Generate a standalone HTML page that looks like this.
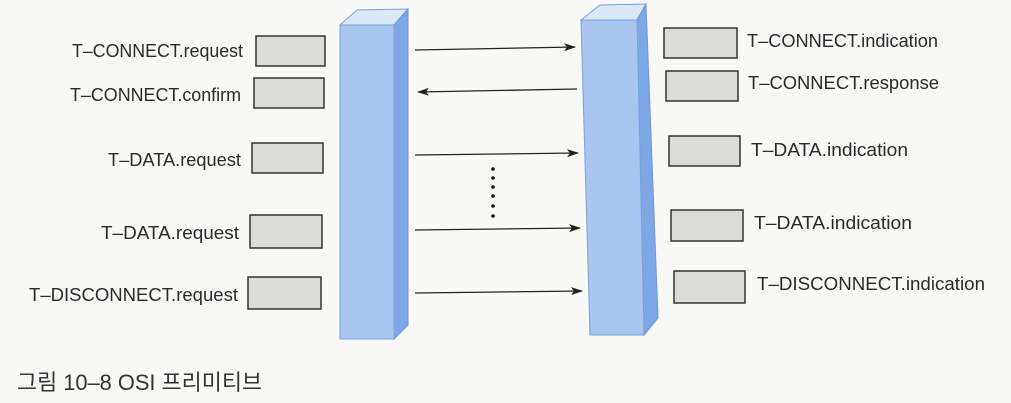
<!DOCTYPE html>
<html><head><meta charset="utf-8"><style>
html,body{margin:0;padding:0;background:#f8f8f6;}
svg{display:block}
text{font-family:"Liberation Sans","Noto Sans CJK KR",sans-serif;fill:#2a2a2a;font-size:18px}
</style></head><body>
<svg width="1011" height="403" viewBox="0 0 1011 403">
<defs>
<marker id="a" markerWidth="12" markerHeight="8" refX="11" refY="4" orient="auto" markerUnits="userSpaceOnUse"><path d="M0,0 L12,4 L0,8 L3,4 Z" fill="#222"/></marker>
</defs>
<polygon points="340,25 357,10 408,9 394,25" fill="#dbe8f8" stroke="#7aa2dc" stroke-width="1"/>
<polygon points="394,25 408,9 408,325 394,339" fill="#7ea7e6" stroke="#6d96d6" stroke-width="1"/>
<rect x="340" y="25" width="54" height="314" fill="#a8c6f0" stroke="#7aa2dc" stroke-width="1"/>
<polygon points="581,20 600,5 646,4 637,20" fill="#dbe8f8" stroke="#7aa2dc" stroke-width="1"/>
<polygon points="637,20 646,4 658,318 644,335" fill="#7ea7e6" stroke="#6d96d6" stroke-width="1"/>
<polygon points="581,20 637,20 644,335 590,335" fill="#a8c6f0" stroke="#7aa2dc" stroke-width="1"/>
<g fill="#dcdcd8" stroke="#333" stroke-width="1.5">
<rect x="256" y="36" width="69" height="30"/>
<rect x="254" y="78" width="70" height="30"/>
<rect x="252" y="143" width="71" height="30"/>
<rect x="250" y="215" width="72" height="33"/>
<rect x="248" y="277" width="73" height="32"/>
<rect x="664" y="28" width="73" height="30"/>
<rect x="666" y="71" width="72" height="30"/>
<rect x="669" y="136" width="71" height="30"/>
<rect x="671" y="210" width="72" height="31"/>
<rect x="674" y="271" width="71" height="32"/>
</g>
<g stroke="#222" stroke-width="1.3">
<line x1="415" y1="50" x2="575" y2="47" marker-end="url(#a)"/>
<line x1="577" y1="89" x2="418" y2="92" marker-end="url(#a)"/>
<line x1="415" y1="155" x2="578" y2="153" marker-end="url(#a)"/>
<line x1="415" y1="230" x2="580" y2="228" marker-end="url(#a)"/>
<line x1="415" y1="293" x2="582" y2="291" marker-end="url(#a)"/>
</g>
<g fill="#111">
<circle cx="493" cy="169" r="1.8"/><circle cx="493" cy="178" r="1.8"/><circle cx="493" cy="187" r="1.8"/><circle cx="493" cy="196" r="1.8"/><circle cx="493" cy="206" r="1.8"/><circle cx="493" cy="216" r="1.8"/>
</g>
<text x="72" y="57" textLength="171" lengthAdjust="spacingAndGlyphs">T–CONNECT.request</text>
<text x="70" y="101" textLength="171" lengthAdjust="spacingAndGlyphs">T–CONNECT.confirm</text>
<text x="108" y="166" textLength="133" lengthAdjust="spacingAndGlyphs">T–DATA.request</text>
<text x="101" y="239" textLength="138" lengthAdjust="spacingAndGlyphs">T–DATA.request</text>
<text x="29" y="301" textLength="209" lengthAdjust="spacingAndGlyphs">T–DISCONNECT.request</text>
<text x="747" y="47" textLength="191" lengthAdjust="spacingAndGlyphs">T–CONNECT.indication</text>
<text x="748" y="89" textLength="191" lengthAdjust="spacingAndGlyphs">T–CONNECT.response</text>
<text x="751" y="156" textLength="157" lengthAdjust="spacingAndGlyphs">T–DATA.indication</text>
<text x="754" y="229" textLength="158" lengthAdjust="spacingAndGlyphs">T–DATA.indication</text>
<text x="757" y="290" textLength="228" lengthAdjust="spacingAndGlyphs">T–DISCONNECT.indication</text>
<text x="17" y="390" textLength="245" lengthAdjust="spacingAndGlyphs" style="font-size:22px;fill:#333">그림 10–8  OSI 프리미티브</text>
</svg>
</body></html>
